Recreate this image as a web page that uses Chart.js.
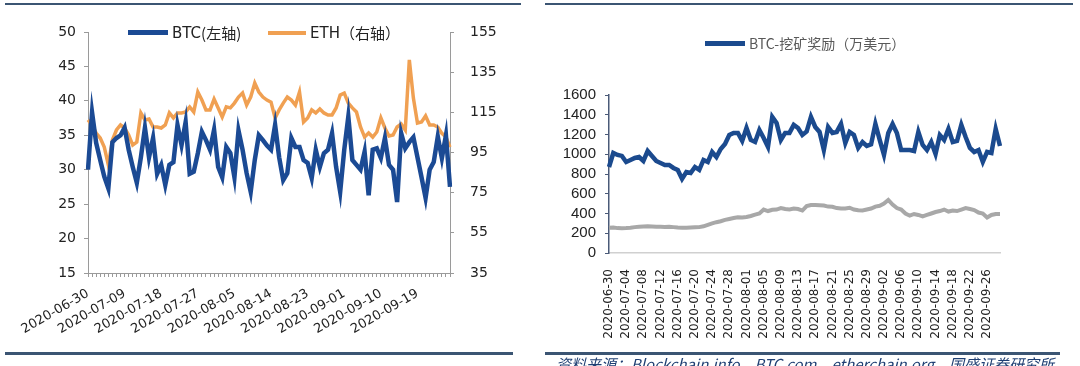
<!DOCTYPE html>
<html>
<head>
<meta charset="utf-8">
<script src="https://cdn.jsdelivr.net/npm/chart.js@4.4.0/dist/chart.umd.min.js"></script>
<style>
  body { margin: 0; width: 1080px; height: 366px; background: #fff; position: relative; overflow: hidden; font-family: "DejaVu Sans", sans-serif; }
  .rule { position: absolute; background: #3b5573; height: 2px; }
  .legend { position: absolute; display: flex; align-items: center; font-size: 14px; white-space: nowrap; }
  .legend .swatch { display: inline-block; margin-right: 4px; }
  .cjk { font-family: "Noto Sans CJK SC", sans-serif; }
  #leftBox { position: absolute; left: 0; top: 0; width: 530px; height: 366px; }
  #rightBox { position: absolute; left: 540px; top: 0; width: 540px; height: 366px; }
  .source { position: absolute; font-style: italic; color: #1f3f73; font-size: 15px; white-space: nowrap; font-family: "Noto Sans CJK SC", sans-serif; }
</style>
</head>
<body>
<div class="rule" style="left:5px; top:3px; width:516px;"></div>
<div class="rule" style="left:545px; top:3px; width:528px;"></div>
<div class="rule" style="left:5px; top:352px; width:508px; height:3px;"></div>
<div class="rule" style="left:545px; top:352px; width:515px; height:3px;"></div>

<div id="leftBox"><canvas id="leftChart"></canvas></div>
<div id="rightBox"><canvas id="rightChart"></canvas></div>

<div class="legend" style="left:128px; top:22px; color:#222; font-size:15px;">
  <span class="swatch" style="width:40px; height:5px; background:#1b4a94;"></span>BTC<span class="cjk">(左轴)</span>
</div>
<div class="legend" style="left:268px; top:22px; color:#222; font-size:15px;">
  <span class="swatch" style="width:38px; height:4px; background:#f0a052;"></span>ETH<span class="cjk">（右轴）</span>
</div>
<div class="legend cjk" style="left:705px; top:33px; color:#595959;">
  <span class="swatch" style="width:40px; height:5px; background:#1b4a8e;"></span>BTC-挖矿奖励（万美元）
</div>

<div class="source" style="left:556px; top:353px;">资料来源：Blockchain.info、BTC.com、etherchain.org，国盛证券研究所</div>

<script>
// BTC / ETH series (left chart), one value per day from 2020-06-30
const btcValues = [
  30.0, 38.3, 33.9, 31.4, 29.0, 27.3, 34.0, 34.6, 35.0, 36.1,
  32.9, 30.4, 28.1, 31.8, 36.1, 31.8, 34.6, 29.4, 30.7, 27.8,
  30.7, 31.1, 36.5, 33.6, 36.9, 29.4, 29.7, 32.4, 35.5, 34.3,
  32.9, 35.8, 30.4, 28.9, 33.3, 32.4, 28.9, 35.7, 32.9, 29.5,
  26.8, 31.4, 35.0, 34.3, 33.5, 32.9, 36.5, 31.8, 28.5, 29.5,
  34.6, 33.3, 33.3, 31.4, 31.0, 28.8, 32.9, 30.4, 32.4, 32.9,
  35.3, 30.4, 26.8, 32.9, 37.7, 31.4, 30.7, 30.0, 32.6, 26.3,
  32.9, 33.1, 31.7, 34.6, 30.7, 30.0, 25.3, 35.3, 33.1, 34.0,
  34.7, 31.8, 28.9, 25.9, 30.0, 31.1, 34.8, 31.7, 35.0, 27.5
];
const ethValues = [
  111.2, 108.7, 104.7, 102.2, 97.7, 88.8, 101.2, 106.2, 108.7, 107.2,
  103.7, 98.7, 100.2, 114.7, 111.2, 111.7, 107.7, 107.7, 107.2, 108.7,
  114.7, 112.2, 114.7, 114.7, 115.2, 117.7, 115.2, 125.1, 121.1, 116.2,
  116.2, 121.6, 117.2, 112.7, 117.7, 117.2, 119.6, 122.6, 124.6, 118.6,
  122.6, 129.6, 125.1, 122.6, 121.1, 120.1, 112.2, 116.2, 119.6, 122.6,
  121.1, 118.6, 125.1, 110.2, 112.2, 116.2, 114.7, 116.7, 114.7, 113.7,
  113.7, 117.2, 123.6, 124.6, 119.6, 117.2, 115.2, 107.7, 102.7, 104.7,
  102.7, 105.2, 112.2, 107.2, 103.2, 103.7, 107.7, 109.2, 106.2, 141.1,
  122.1, 109.7, 110.2, 113.2, 108.7, 108.7, 107.7, 104.5, 102.7, 97.7
];

// mining reward (right chart), 2020-06-30 .. 2020-09-29
const rewardValues = [
  871, 1013, 993, 983, 922, 942, 962, 972, 932, 1033,
  983, 932, 912, 891, 891, 861, 841, 750, 820, 810,
  871, 841, 942, 922, 1023, 972, 1054, 1104, 1195, 1216,
  1216, 1135, 1266, 1145, 1124, 1246, 1165, 1074, 1378, 1317,
  1145, 1216, 1216, 1297, 1266, 1195, 1230, 1378, 1276, 1226,
  1043, 1276, 1216, 1226, 1307, 1114, 1226, 1195, 1064, 1124,
  1084, 1100, 1307, 1145, 993, 1216, 1307, 1216, 1043, 1043,
  1043, 1033, 1226, 1094, 1043, 1124, 1003, 1195, 1145, 1256,
  1124, 1135, 1297, 1175, 1064, 1023, 1043, 922, 1023, 1013,
  1256, 1084
];
const greyValues = [
  255, 258, 252, 250, 252, 255, 262, 265, 268, 270,
  268, 265, 265, 263, 265, 262, 258, 255, 256, 258,
  260, 262, 270, 285, 300, 312, 322, 335, 345, 355,
  362, 360, 365, 375, 388, 400, 440, 425, 438, 440,
  455, 445, 440, 450, 445, 430, 475, 486, 486, 484,
  480, 470, 468, 455, 450, 450, 458, 440, 432, 430,
  440, 450, 470, 478, 500, 537, 490, 455, 440, 400,
  378, 395, 385, 370, 385, 400, 415, 425, 440, 420,
  430, 425, 440, 455, 445, 435, 410, 400, 360, 385,
  395, 395
];

const leftTicksY = [15, 20, 25, 30, 35, 40, 45, 50];
const rightTicksY = [35, 55, 75, 95, 115, 135, 155];
const rewardTicksY = [0, 200, 400, 600, 800, 1000, 1200, 1400, 1600];

function dayLabels(start, count) {
  const out = [];
  const d = new Date(start + 'T00:00:00Z');
  for (let i = 0; i < count; i++) {
    out.push(d.toISOString().slice(0, 10));
    d.setUTCDate(d.getUTCDate() + 1);
  }
  return out;
}
const leftDates = dayLabels('2020-06-30', btcValues.length);
const rightDates = dayLabels('2020-06-30', rewardValues.length);

const axisFont = { family: 'DejaVu Sans', size: 14 };

// Left chart: BTC vs ETH
new Chart(document.getElementById('leftChart'), {
  type: 'line',
  data: {
    labels: leftDates,
    datasets: [
      { label: 'BTC(左轴)', data: btcValues, yAxisID: 'y', borderColor: '#1b4a94', borderWidth: 4.5, pointRadius: 0, tension: 0 },
      { label: 'ETH（右轴）', data: ethValues, yAxisID: 'y1', borderColor: '#f0a052', borderWidth: 3.5, pointRadius: 0, tension: 0 }
    ]
  },
  options: {
    responsive: true,
    maintainAspectRatio: false,
    animation: false,
    layout: { padding: { top: 32, left: 0, right: 0, bottom: 0 } },
    plugins: { legend: { display: false }, tooltip: { enabled: false } },
    scales: {
      x: {
        grid: { display: true, drawOnChartArea: false, tickLength: 4, color: '#9a9a9a' },
        border: { color: '#9a9a9a' },
        ticks: {
          autoSkip: false, maxRotation: 30, minRotation: 30, padding: 9,
          color: '#222', font: { family: 'DejaVu Sans', size: 13 },
          callback: function(v, i) { return i % 9 === 0 ? leftDates[i] : ''; }
        },
        afterFit: function(s) { s.height = 93; }
      },
      y: {
        position: 'left', min: 15, max: 50,
        afterBuildTicks: function(s) { s.ticks = leftTicksY.map(v => ({ value: v })); },
        grid: { display: true, drawOnChartArea: false, tickLength: 4, color: '#9a9a9a' },
        border: { color: '#9a9a9a' },
        ticks: { padding: 8, color: '#222', font: axisFont, autoSkip: false },
        afterFit: function(s) { s.width = 88; }
      },
      y1: {
        position: 'right', min: 35, max: 155,
        afterBuildTicks: function(s) { s.ticks = rightTicksY.map(v => ({ value: v })); },
        grid: { display: true, drawOnChartArea: false, tickLength: 4, color: '#9a9a9a' },
        border: { color: '#9a9a9a' },
        ticks: { padding: 16, color: '#222', font: axisFont, autoSkip: false },
        afterFit: function(s) { s.width = 80; }
      }
    }
  }
});

// Right chart: BTC mining reward
new Chart(document.getElementById('rightChart'), {
  type: 'line',
  data: {
    labels: rightDates,
    datasets: [
      { label: 'BTC-挖矿奖励（万美元）', data: rewardValues, borderColor: '#1b4a8e', borderWidth: 4.5, pointRadius: 0, tension: 0 },
      { label: '', data: greyValues, borderColor: '#a8a8a8', borderWidth: 4, pointRadius: 0, tension: 0 }
    ]
  },
  options: {
    responsive: true,
    maintainAspectRatio: false,
    animation: false,
    layout: { padding: { top: 95, left: 0, right: 80, bottom: 0 } },
    plugins: { legend: { display: false }, tooltip: { enabled: false } },
    scales: {
      x: {
        grid: { display: false },
        border: { color: '#d0d0d0', width: 1.5 },
        ticks: {
          autoSkip: false, maxRotation: 90, minRotation: 90, padding: 8,
          color: '#222', font: { family: 'DejaVu Sans', size: 12 },
          callback: function(v, i) { return i % 4 === 0 ? rightDates[i] : ''; }
        },
        afterFit: function(s) { s.height = 113; }
      },
      y: {
        min: 0, max: 1600,
        afterBuildTicks: function(s) { s.ticks = rewardTicksY.map(v => ({ value: v })); },
        ticks: {
          autoSkip: false, padding: 9, color: '#222', font: { family: 'Liberation Sans', size: 15 },
          callback: function(v) { return String(v); }
        },
        grid: { display: true, drawOnChartArea: false, tickLength: 4, color: '#4a5a78' },
        border: { color: '#4a5a78', width: 1.5 },
        afterFit: function(s) { s.width = 69; }
      }
    }
  }
});
</script>
</body>
</html>
